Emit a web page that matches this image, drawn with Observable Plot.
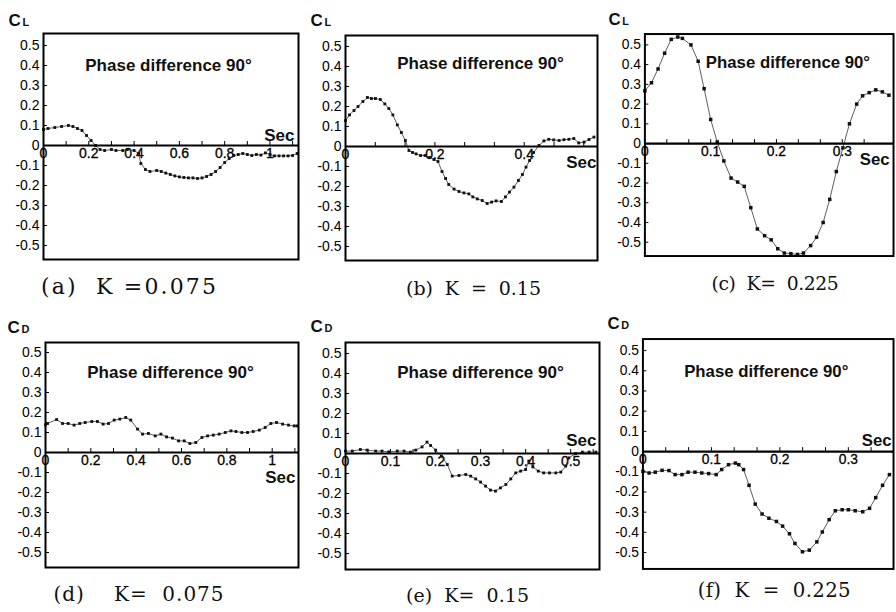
<!DOCTYPE html>
<html>
<head>
<meta charset="utf-8">
<script src="https://cdn.jsdelivr.net/npm/d3@7"></script>
<script src="https://cdn.jsdelivr.net/npm/@observablehq/plot@0.6"></script>
<style>
  html, body { margin: 0; padding: 0; background: #fff; overflow: hidden; }
  #wrap { position: relative; width: 896px; height: 612px; overflow: hidden; background: #fff; }
  .panel { position: absolute; }
  svg text { white-space: pre; }
</style>
</head>
<body>
<div id="wrap"></div>
<script>
// ---------------- DATA ----------------
// (a) CL, K = 0.075
const aTime = [0.00,0.02,0.05,0.08,0.11,0.13,0.15,0.17,0.19,0.21,0.23,0.25,0.27,0.30,0.32,0.35,0.37,0.40,0.42,0.43,0.45,0.47,0.50,0.52,0.54,0.56,0.58,0.60,0.62,0.64,0.66,0.68,0.70,0.72,0.74,0.76,0.78,0.80,0.82,0.84,0.86,0.88,0.90,0.92,0.94,0.96,0.98,1.00,1.02,1.04,1.06,1.08,1.10,1.12];
const aCL   = [0.08,0.085,0.09,0.095,0.10,0.095,0.085,0.075,0.05,0.025,0.0,-0.02,-0.025,-0.02,-0.025,-0.025,-0.02,-0.025,-0.04,-0.09,-0.12,-0.13,-0.125,-0.13,-0.138,-0.145,-0.152,-0.157,-0.16,-0.162,-0.162,-0.165,-0.162,-0.155,-0.145,-0.13,-0.11,-0.085,-0.065,-0.05,-0.045,-0.04,-0.045,-0.05,-0.045,-0.048,-0.037,-0.045,-0.052,-0.052,-0.052,-0.052,-0.05,-0.04];

// (b) CL, K = 0.15
const bTime = [0.000,0.009,0.019,0.028,0.039,0.049,0.058,0.067,0.078,0.088,0.097,0.106,0.116,0.125,0.134,0.142,0.150,0.158,0.168,0.178,0.188,0.198,0.207,0.216,0.224,0.231,0.243,0.254,0.265,0.276,0.285,0.295,0.306,0.317,0.327,0.337,0.349,0.358,0.367,0.377,0.387,0.396,0.404,0.412,0.421,0.433,0.444,0.455,0.466,0.478,0.489,0.500,0.511,0.522,0.534,0.545,0.556];
const bCL   = [0.13,0.158,0.18,0.20,0.225,0.245,0.24,0.24,0.235,0.213,0.19,0.158,0.108,0.07,0.03,-0.02,-0.03,-0.037,-0.045,-0.045,-0.055,-0.065,-0.075,-0.125,-0.16,-0.19,-0.213,-0.225,-0.232,-0.237,-0.252,-0.262,-0.27,-0.285,-0.278,-0.272,-0.275,-0.252,-0.228,-0.203,-0.17,-0.14,-0.103,-0.07,-0.03,0.005,0.028,0.036,0.033,0.03,0.034,0.036,0.04,0.018,0.022,0.035,0.047];

// (c) CL, K = 0.225
const cTime = [0.000,0.010,0.020,0.030,0.040,0.050,0.057,0.070,0.081,0.090,0.100,0.110,0.120,0.131,0.141,0.151,0.161,0.171,0.182,0.192,0.202,0.212,0.222,0.232,0.241,0.252,0.261,0.271,0.281,0.291,0.301,0.311,0.322,0.331,0.341,0.351,0.361,0.371];
const cCL   = [0.267,0.308,0.378,0.458,0.528,0.54,0.533,0.50,0.417,0.278,0.122,0.008,-0.088,-0.175,-0.195,-0.217,-0.325,-0.433,-0.467,-0.488,-0.533,-0.555,-0.558,-0.562,-0.555,-0.517,-0.475,-0.40,-0.283,-0.142,-0.022,0.10,0.20,0.242,0.258,0.272,0.262,0.245];

// (d) CD, K = 0.075
const dTime = [0.00,0.009,0.049,0.075,0.10,0.126,0.151,0.175,0.204,0.229,0.254,0.278,0.303,0.328,0.354,0.376,0.406,0.428,0.454,0.484,0.509,0.534,0.56,0.587,0.612,0.637,0.663,0.69,0.715,0.74,0.766,0.793,0.818,0.84,0.866,0.891,0.916,0.943,0.969,0.994,1.019,1.046,1.072,1.097,1.11];
const dCD   = [0.138,0.145,0.165,0.145,0.145,0.137,0.145,0.15,0.155,0.155,0.142,0.145,0.162,0.167,0.175,0.162,0.117,0.092,0.095,0.083,0.092,0.078,0.072,0.058,0.058,0.045,0.05,0.075,0.083,0.087,0.092,0.10,0.108,0.105,0.10,0.10,0.105,0.112,0.125,0.145,0.15,0.142,0.137,0.133,0.133];

// (e) CD, K = 0.15
const eTime = [0.000,0.015,0.033,0.048,0.067,0.081,0.096,0.115,0.130,0.144,0.156,0.170,0.181,0.189,0.200,0.213,0.226,0.237,0.252,0.267,0.278,0.289,0.300,0.311,0.322,0.333,0.344,0.356,0.367,0.378,0.389,0.400,0.407,0.416,0.428,0.440,0.453,0.467,0.478,0.489,0.496,0.511,0.526,0.541,0.556];
const eCD   = [0.012,0.012,0.02,0.017,0.012,0.012,0.008,0.012,0.012,0.007,0.017,0.033,0.057,0.04,0.017,-0.013,-0.055,-0.113,-0.11,-0.105,-0.113,-0.127,-0.143,-0.163,-0.183,-0.188,-0.172,-0.155,-0.127,-0.097,-0.088,-0.08,-0.038,-0.067,-0.088,-0.097,-0.097,-0.097,-0.093,-0.063,-0.022,0.0,0.007,0.007,0.007];

// (f) CD, K = 0.225
const fTime = [0.000,0.009,0.018,0.028,0.038,0.047,0.057,0.066,0.076,0.086,0.096,0.107,0.115,0.125,0.135,0.140,0.147,0.155,0.164,0.174,0.184,0.195,0.204,0.214,0.222,0.233,0.243,0.254,0.262,0.272,0.281,0.291,0.300,0.310,0.321,0.331,0.340,0.350,0.360];
const fCD   = [-0.098,-0.106,-0.102,-0.093,-0.094,-0.114,-0.114,-0.102,-0.102,-0.106,-0.109,-0.114,-0.089,-0.065,-0.057,-0.065,-0.089,-0.167,-0.26,-0.309,-0.33,-0.346,-0.369,-0.407,-0.455,-0.496,-0.488,-0.447,-0.398,-0.337,-0.293,-0.288,-0.288,-0.293,-0.298,-0.281,-0.228,-0.167,-0.114];

// Tick values and labels
const yTicks = [-0.5,-0.4,-0.3,-0.2,-0.1,0,0.1,0.2,0.3,0.4,0.5];
const xLabelsLong  = [0,0.2,0.4,0.6,0.8,1];
const xMinorLong   = [0.1,0.2,0.3,0.4,0.5,0.6,0.7,0.8,0.9,1.0,1.1];
const xLabelsB     = [0,0.2,0.4];
const xMinorB      = [0.0667,0.1333,0.2,0.2667,0.3333,0.4,0.4667,0.5333];
const xLabelsShort = [0,0.1,0.2,0.3];
const xMinorShort  = [0.0333,0.0667,0.1,0.1333,0.1667,0.2,0.2333,0.2667,0.3,0.3333];
const xLabelsE     = [0,0.1,0.2,0.3,0.4,0.5];
const xMinorE      = [0.05,0.1,0.15,0.2,0.25,0.3,0.35,0.4,0.45,0.5,0.55];

const yNames   = ["C","C","C","C","C","C"];
const ySubs    = ["L","L","L","D","D","D"];
const phaseText = "Phase difference 90°";
const axisUnit  = "Sec";
const captions = ["(a)  K =0.075", "(b)  K  =  0.15", "(c)  K=  0.225", "(d)    K=  0.075", "(e)  K=  0.15", "(f)  K  =  0.225"];

// ---------------- LAYOUT ----------------
const panels = [
  {t:aTime, v:aCL, labels:xLabelsLong,  minor:xMinorLong,  left:0,   top:0,   mL:43, mR:2, mT:33, mB:47, yMax:0.56,  yMin:-0.57,  xMax:1.126, r:1.6,
   phase:[168,70], sec:[294,140], cap:[128,293], capW:175, capF:22, cl:[8,25]},
  {t:bTime, v:bCL, labels:xLabelsB,     minor:xMinorB,     left:300, top:0,   mL:45, mR:3, mT:35, mB:46, yMax:0.555, yMin:-0.57,  xMax:0.564, r:1.6,
   phase:[180,68], sec:[296,167], cap:[173,294], capW:135, capF:19, cl:[10,25]},
  {t:cTime, v:cCL, labels:xLabelsShort, minor:xMinorShort, left:600, top:0,   mL:45, mR:3, mT:34, mB:47, yMax:0.555, yMin:-0.57,  xMax:0.378, r:2.0,
   phase:[190,68], sec:[293,167], cap:[177,293], capW:129, capF:19, cl:[8,25]},
  {t:dTime, v:dCD, labels:xLabelsLong,  minor:xMinorLong,  left:0,   top:306, mL:45, mR:2, mT:36, mB:45, yMax:0.55,  yMin:-0.575, xMax:1.116, r:1.6,
   phase:[170,71], sec:[295,176], cap:[138,294], capW:170, capF:20, cl:[7,26]},
  {t:eTime, v:eCD, labels:xLabelsE,     minor:xMinorE,     left:300, top:306, mL:45, mR:1, mT:36, mB:43, yMax:0.555, yMin:-0.58,  xMax:0.564, r:1.6,
   phase:[180,71], sec:[296,139], cap:[167,295], capW:123, capF:19, cl:[10,25]},
  {t:fTime, v:fCD, labels:xLabelsShort, minor:xMinorShort, left:600, top:306, mL:43, mR:3, mT:33, mB:40, yMax:0.557, yMin:-0.581, xMax:0.366, r:2.0,
   phase:[168,71], sec:[295,141], cap:[176,294], capW:155, capF:20, cl:[7,23]}
];

const W = 300, H = 306;
const sans = "'Liberation Sans', Arial, sans-serif";
const serif = "'DejaVu Serif', 'Liberation Serif', serif";

const wrap = document.getElementById("wrap");

panels.forEach((p, i) => {
  const data = p.t.map((t, k) => ({t, v: p.v[k]}));
  const frameW = W - p.mL - p.mR;
  const frameH = H - p.mT - p.mB;
  const zeroPx = p.yMax / (p.yMax - p.yMin) * frameH;
  const at = (xy, text, opts) => Plot.text([text], {
    frameAnchor: "top-left", dx: xy[0] - p.mL, dy: xy[1] - p.mT,
    text: d => d, lineAnchor: "bottom", ...opts
  });

  const chart = Plot.plot({
    width: W, height: H,
    marginLeft: p.mL, marginRight: p.mR, marginTop: p.mT, marginBottom: p.mB,
    x: {domain: [0, p.xMax], axis: null},
    y: {domain: [p.yMin, p.yMax], axis: null},
    style: {background: "transparent", fontFamily: sans, fontSize: "14px", overflow: "visible", color: "#000"},
    marks: [
      Plot.tickY(yTicks, {y: d => d, insetRight: frameW - 4, stroke: "#000", strokeWidth: 1}),
      Plot.axisY(yTicks, {tickSize: 0, tickPadding: 4, fontSize: 14, fill: "#000", stroke: "#000", strokeWidth: 0.3, label: null,
        tickFormat: d => d === 0 ? "0" : d.toFixed(1)}),
      Plot.tickX(p.minor, {x: d => d, insetTop: zeroPx - 4, insetBottom: frameH - zeroPx, stroke: "#000", strokeWidth: 1}),
      Plot.text(p.labels, {x: d => d, y: 0, text: d => String(d), dy: 8, fontSize: 14, fill: "#000", stroke: "#000", strokeWidth: 0.3, lineAnchor: "middle"}),
      Plot.line(data, {x: "t", y: "v", stroke: "#333", strokeWidth: 0.8}),
      Plot.dot(data, {x: "t", y: "v", symbol: "square", r: p.r, fill: "#111", stroke: "none"}),
      Plot.ruleY([0], {stroke: "#000", strokeWidth: 2.2}),
      Plot.frame({stroke: "#000", strokeWidth: 2}),
      at(p.phase, phaseText, {textAnchor: "middle", fontSize: 17, fontWeight: "bold", fill: "#111"}),
      at(p.sec, axisUnit, {textAnchor: "end", fontSize: 17, fontWeight: "bold", fill: "#111"}),
      at(p.cap, captions[i], {textAnchor: "middle", fontSize: p.capF, fontFamily: serif, fill: "#111"}),
      at(p.cl, yNames[i], {textAnchor: "start", fontSize: 17, fontWeight: "bold", fill: "#111"}),
      at([p.cl[0] + 14, p.cl[1]], ySubs[i], {textAnchor: "start", fontSize: 11, fontWeight: "bold", fill: "#111"})
    ]
  });
  // fit each caption to the width it has in the reference
  chart.querySelectorAll("text").forEach(el => {
    if (el.textContent === captions[i]) {
      el.setAttribute("textLength", p.capW);
      el.setAttribute("lengthAdjust", "spacing");
    }
  });
  const div = document.createElement("div");
  div.className = "panel";
  div.style.left = p.left + "px";
  div.style.top = p.top + "px";
  div.appendChild(chart);
  wrap.appendChild(div);
});
</script>
</body>
</html>
